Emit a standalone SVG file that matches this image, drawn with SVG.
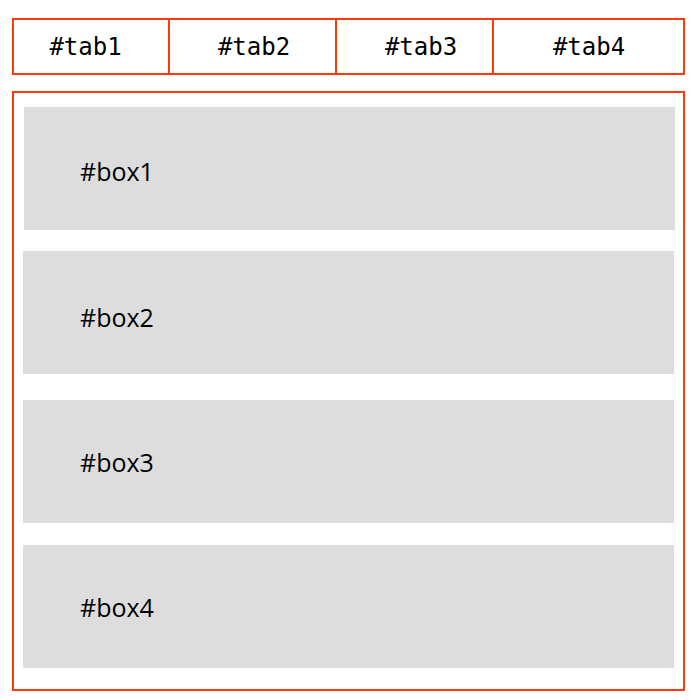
<svg xmlns="http://www.w3.org/2000/svg" width="700" height="700" viewBox="0 0 700 700">
<style>
.frame{fill:none;stroke:#ff3a0a;stroke-width:2}
.div{stroke:#ff3a0a;stroke-width:2}
.box{fill:#dddddd}
.lbl{font-family:"DejaVu Sans Mono",monospace;font-size:24px;fill:#000}
.blbl{font-family:"Open Sans","Noto Sans",sans-serif;font-size:25px;fill:#000}
</style>
<rect width="700" height="700" fill="#fff"/>
<g id="tabs">
<rect class="frame" x="13" y="19" width="671" height="55"/>
<g id="tab1"><text class="lbl" x="85.5" y="55" text-anchor="middle">#tab1</text></g>
<g id="tab2"><line class="div" x1="169" y1="19" x2="169" y2="74"/><text class="lbl" x="254" y="55" text-anchor="middle">#tab2</text></g>
<g id="tab3"><line class="div" x1="336" y1="19" x2="336" y2="74"/><text class="lbl" x="421" y="55" text-anchor="middle">#tab3</text></g>
<g id="tab4"><line class="div" x1="493" y1="19" x2="493" y2="74"/><text class="lbl" x="589" y="55" text-anchor="middle">#tab4</text></g>
</g>
<g id="container"><rect class="frame" x="13" y="92" width="671" height="598"/></g>
<g id="box1"><rect class="box" x="24" y="107" width="651" height="123"/><text class="blbl" x="80" y="181">#box1</text></g>
<g id="box2"><rect class="box" x="23" y="251" width="651" height="123"/><text class="blbl" x="80" y="327">#box2</text></g>
<g id="box3"><rect class="box" x="23" y="400" width="651" height="123"/><text class="blbl" x="80" y="472">#box3</text></g>
<g id="box4"><rect class="box" x="23" y="545" width="651" height="123"/><text class="blbl" x="80" y="617">#box4</text></g>
</svg>
